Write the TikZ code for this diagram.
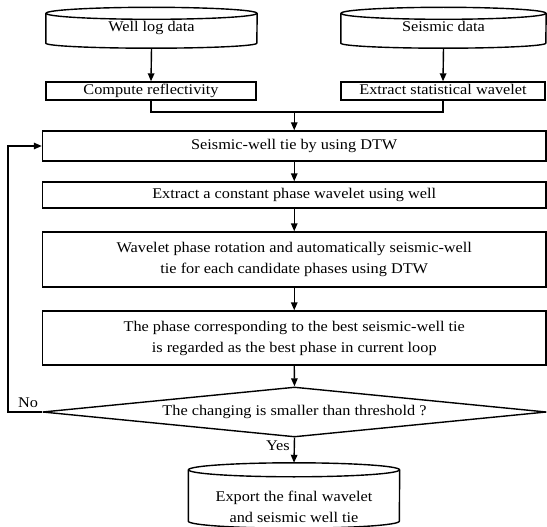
\documentclass[tikz,border=0pt]{standalone}
\usepackage{fontspec}
\setmainfont{Liberation Serif}[FakeStretch=1.1]
\usetikzlibrary{arrows.meta,shapes.geometric}
\tikzset{
  base/.style={font=\fontsize{14.8}{21}\selectfont, inner sep=0pt, align=center},
  oneline/.style={text height=10.5pt, text depth=3pt},
  procbox/.style={base, draw, rectangle, line width=1.4pt},
  cylbody/.style={base, rectangle},
  decision/.style={base, draw, diamond, line width=1.4pt, aspect=10},
  arr/.style={line width=1.4pt, -{Triangle[length=8pt,width=6.5pt]}},
  line/.style={line width=1.4pt},
  lbl/.style={font=\fontsize{14.8}{21}\selectfont, inner sep=0pt}
}
\begin{document}
\begin{tikzpicture}[x=1pt,y=-1pt]
\useasboundingbox (0,0) rectangle (547,527);

% top cylinders
\node[cylbody, oneline, minimum width=211pt, minimum height=29.5pt] (wl) at (151.5,28.25) {Well log data};
\node[cylbody, oneline, minimum width=205pt, minimum height=29.5pt] (sd) at (443.5,28.25) {Seismic data};
\foreach \n/\r in {wl/105.5, sd/102.5}{
  \draw[line] (\n.north) ellipse [x radius=\r pt, y radius=6pt];
  \draw[line] (\n.north west) -- (\n.south west) arc[start angle=180, end angle=360, x radius=\r pt, y radius=5pt] -- (\n.north east);
}

% second row boxes
\node[procbox, oneline, minimum width=210pt, minimum height=18pt] (cr) at (151,91) {Compute reflectivity};
\node[procbox, oneline, minimum width=204pt, minimum height=18pt] (sw) at (443,91) {Extract statistical wavelet};

\draw[arr] ([yshift=-5pt]wl.south) -- (cr.north);
\draw[arr] ([yshift=-5pt]sd.south) -- (sw.north);

% main boxes
\node[procbox, oneline, minimum width=503.5pt, minimum height=30pt] (b1) at (294.25,146) {Seismic-well tie by using DTW};
\node[procbox, oneline, minimum width=503.5pt, minimum height=26pt] (b2) at (294.25,195) {Extract a constant phase wavelet using well};
\node[procbox, minimum width=503.5pt, minimum height=55pt] (b3) at (294.25,259.5) {Wavelet phase rotation and automatically seismic-well\\tie for each candidate phases using DTW};
\node[procbox, minimum width=503.5pt, minimum height=54pt] (b4) at (294.25,338) {The phase corresponding to the best seismic-well tie\\is regarded as the best phase in current loop};
\node[decision, minimum width=504pt, minimum height=50pt] (d) at (294.5,412) {\raisebox{-4pt}{The changing is smaller than threshold ?}};

\coordinate (j) at (294.25,112);
\draw[line] (cr.south) |- (j) -| (sw.south);
\draw[arr] (j) -- (b1.north);
\draw[arr] (b1.south) -- (b2.north);
\draw[arr] (b2.south) -- (b3.north);
\draw[arr] (b3.south) -- (b4.north);
\draw[arr] (b4.south) -- (d.north);

% loop back
\coordinate (lc) at (8,412);
\draw[arr] (d.west) -- (lc) |- (b1.west);
\node[lbl] (no) at (28,403) {No};

% final cylinder
\node[cylbody, minimum width=211pt, minimum height=51pt] (fc) at (294,495.5) {};
\draw[line] (fc.north) ellipse [x radius=105.5pt, y radius=7pt];
\draw[line] (fc.north west) -- (fc.south west) arc[start angle=180, end angle=360, x radius=105.5pt, y radius=7pt] -- (fc.north east);
\node[base] (fct) at (294,507) {Export the final wavelet\\and seismic well tie};

\draw[arr] (d.south) -- ([yshift=7pt]fc.north);
\node[lbl, anchor=east] (yes) at (290,446) {Yes};
\end{tikzpicture}
\end{document}
